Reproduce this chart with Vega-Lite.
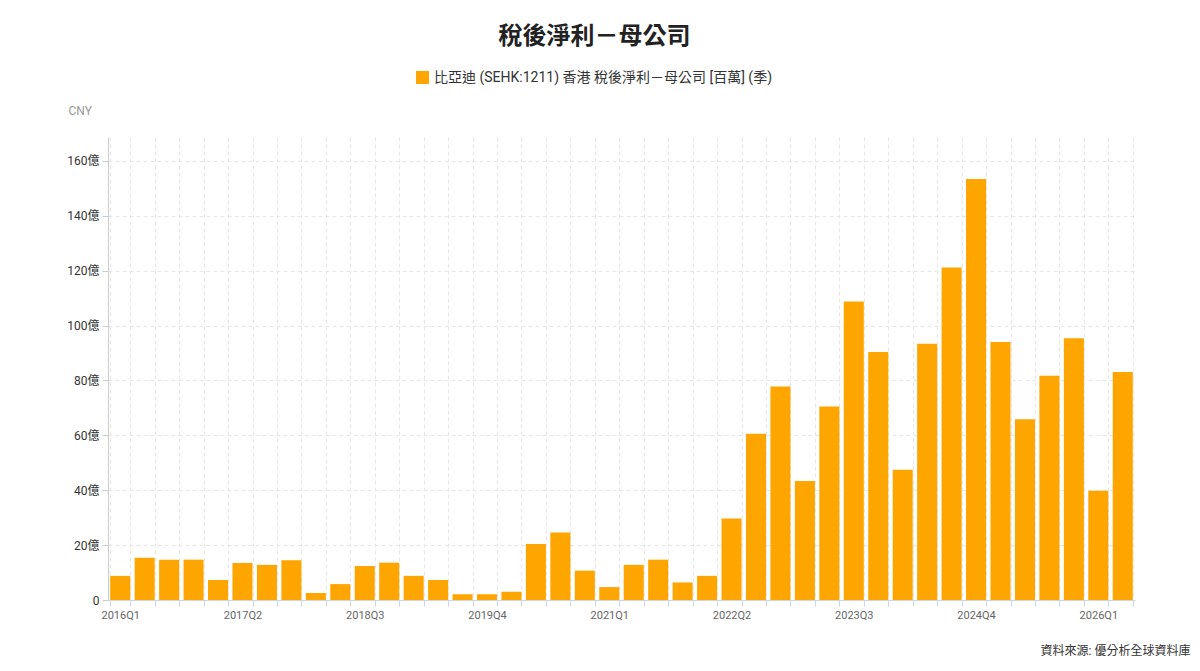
{
  "$schema": "https://vega.github.io/schema/vega-lite/v6.json",
  "width": 1027,
  "height": 463,
  "autosize": {"type": "none"},
  "padding": {"left": 108, "top": 137, "right": 65, "bottom": 71},
  "background": "white",
  "title": {
    "text": "稅後淨利－母公司",
    "fontSize": 24,
    "fontWeight": "bold",
    "color": "#222222",
    "anchor": "middle",
    "dx": -27,
    "offset": 21
  },
  "data": {
    "values": [
      {"quarter": "2016Q1", "net_profit": 880},
      {"quarter": "2016Q2", "net_profit": 1540},
      {"quarter": "2016Q3", "net_profit": 1470},
      {"quarter": "2016Q4", "net_profit": 1470},
      {"quarter": "2017Q1", "net_profit": 730},
      {"quarter": "2017Q2", "net_profit": 1350},
      {"quarter": "2017Q3", "net_profit": 1280},
      {"quarter": "2017Q4", "net_profit": 1450},
      {"quarter": "2018Q1", "net_profit": 255},
      {"quarter": "2018Q2", "net_profit": 580},
      {"quarter": "2018Q3", "net_profit": 1240},
      {"quarter": "2018Q4", "net_profit": 1360},
      {"quarter": "2019Q1", "net_profit": 880},
      {"quarter": "2019Q2", "net_profit": 730},
      {"quarter": "2019Q3", "net_profit": 210},
      {"quarter": "2019Q4", "net_profit": 210},
      {"quarter": "2020Q1", "net_profit": 300},
      {"quarter": "2020Q2", "net_profit": 2040},
      {"quarter": "2020Q3", "net_profit": 2460},
      {"quarter": "2020Q4", "net_profit": 1070},
      {"quarter": "2021Q1", "net_profit": 470},
      {"quarter": "2021Q2", "net_profit": 1280},
      {"quarter": "2021Q3", "net_profit": 1470},
      {"quarter": "2021Q4", "net_profit": 640},
      {"quarter": "2022Q1", "net_profit": 880},
      {"quarter": "2022Q2", "net_profit": 2970},
      {"quarter": "2022Q3", "net_profit": 6060},
      {"quarter": "2022Q4", "net_profit": 7780},
      {"quarter": "2023Q1", "net_profit": 4340},
      {"quarter": "2023Q2", "net_profit": 7050},
      {"quarter": "2023Q3", "net_profit": 10880},
      {"quarter": "2023Q4", "net_profit": 9040},
      {"quarter": "2024Q1", "net_profit": 4750},
      {"quarter": "2024Q2", "net_profit": 9340},
      {"quarter": "2024Q3", "net_profit": 12120},
      {"quarter": "2024Q4", "net_profit": 15340},
      {"quarter": "2025Q1", "net_profit": 9400},
      {"quarter": "2025Q2", "net_profit": 6590},
      {"quarter": "2025Q3", "net_profit": 8170},
      {"quarter": "2025Q4", "net_profit": 9540},
      {"quarter": "2026Q1", "net_profit": 3980},
      {"quarter": "2026Q2", "net_profit": 8310}
    ]
  },
  "mark": {"type": "bar"},
  "encoding": {
    "x": {
      "field": "quarter",
      "type": "ordinal",
      "sort": null,
      "scale": {"paddingInner": 0.18, "paddingOuter": 0.09},
      "axis": {
        "title": "資料來源: 優分析全球資料庫",
        "titleFontSize": 12,
        "titleFontWeight": "normal",
        "titleColor": "#333333",
        "titleAlign": "right",
        "titleAnchor": null,
        "titleX": 1082,
        "titleY": 54,
        "titleBaseline": "alphabetic",
        "labelAngle": 0,
        "labelOverlap": false,
        "labelFontSize": 11,
        "labelColor": "#666666",
        "labelPadding": 3,
        "labelExpr": "indexof(['2016Q1','2017Q2','2018Q3','2019Q4','2021Q1','2022Q2','2023Q3','2024Q4','2026Q1'], datum.value) >= 0 ? datum.value : ''",
        "tickBand": "extent",
        "tickSize": 6,
        "tickColor": "#ccd6eb",
        "domainColor": "#ccd6eb",
        "grid": true,
        "gridColor": "#e6e6e6",
        "gridDash": [4, 3]
      }
    },
    "y": {
      "field": "net_profit",
      "type": "quantitative",
      "scale": {"domain": [0, 16874], "nice": false},
      "axis": {
        "title": "CNY",
        "titleAngle": 0,
        "titleFontSize": 12,
        "titleFontWeight": "normal",
        "titleColor": "#999999",
        "titleAlign": "left",
        "titleAnchor": null,
        "titleX": -40,
        "titleY": -27,
        "titleBaseline": "middle",
        "values": [0, 2000, 4000, 6000, 8000, 10000, 12000, 14000, 16000],
        "labelExpr": "datum.value == 0 ? '0' : (datum.value / 100) + '億'",
        "labelFontSize": 12,
        "labelColor": "#333333",
        "labelPadding": 3,
        "tickSize": 6,
        "tickColor": "#cccccc",
        "domainColor": "#cccccc",
        "grid": true,
        "gridColor": "#e6e6e6",
        "gridDash": [4, 3]
      }
    },
    "color": {
      "datum": "比亞迪 (SEHK:1211) 香港 稅後淨利－母公司 [百萬] (季)",
      "scale": {"range": ["#FFA500"]},
      "legend": {
        "title": null,
        "orient": "none",
        "legendX": 307,
        "legendY": -67,
        "symbolType": "square",
        "symbolSize": 170,
        "symbolOpacity": 1,
        "labelFontSize": 14,
        "labelColor": "#333333",
        "labelLimit": 600
      }
    }
  },
  "config": {
    "font": "Roboto, 'Noto Sans CJK TC', sans-serif",
    "view": {"stroke": null}
  }
}
